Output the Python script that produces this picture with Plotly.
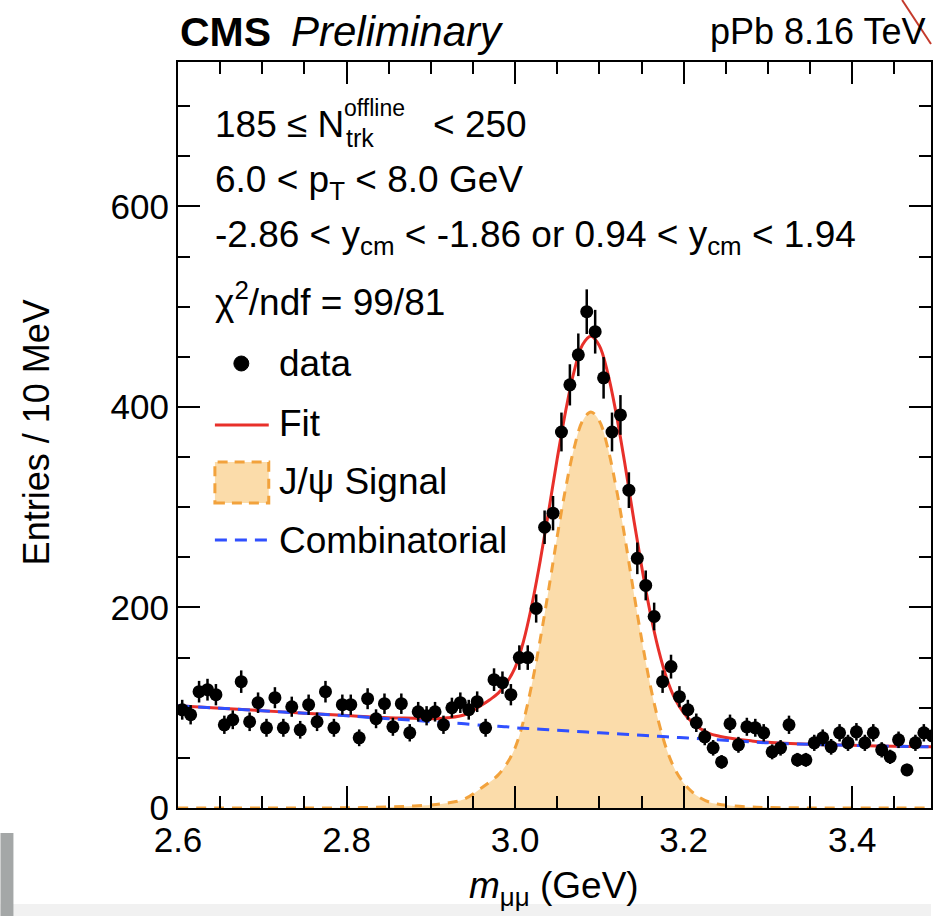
import numpy as np
import plotly.graph_objects as go

# ---------------- data ----------------
bin_width = 0.01
mass_low = 2.60
n_bins = 90
counts = [98, 93, 116, 118, 113, 83, 88, 126, 86, 105,
          80, 110, 80, 101, 78, 103, 86, 116, 80, 103,
          103, 70, 109, 89, 104, 81, 104, 75, 96, 92,
          96, 83, 100, 105, 98, 106, 80, 128, 125, 113,
          150, 150, 199, 280, 294, 375, 422, 452, 495, 475,
          429, 375, 392, 317, 249, 222, 191, 126, 141, 111,
          98, 85, 71, 60, 46, 84, 63, 81, 80, 75,
          56, 60, 83, 48, 48, 65, 70, 61, 75, 65,
          76, 65, 75, 58, 51, 68, 38, 65, 75, 72]

curve_mass = [2.60, 2.65, 2.70, 2.75, 2.80, 2.85, 2.88, 2.90, 2.92, 2.94,
              2.96, 2.97, 2.98, 2.99, 3.00, 3.01, 3.02, 3.03, 3.04, 3.05,
              3.06, 3.07, 3.08, 3.09, 3.10, 3.11, 3.12, 3.13, 3.14, 3.15,
              3.16, 3.17, 3.18, 3.19, 3.20, 3.21, 3.22, 3.23, 3.24, 3.26,
              3.28, 3.30, 3.35, 3.40, 3.45, 3.50]
signal_curve = [0, 0, 0, 0.1, 0.2, 1, 2, 3, 5, 9,
                20, 26, 33, 44, 60, 87, 124, 169, 219, 271,
                319, 359, 386, 395, 386, 359, 319, 271, 219, 169,
                124, 87, 58, 38, 25, 16, 10, 6, 4, 2,
                1, 0.5, 0.1, 0, 0, 0]
background_curve = [102, 99.5, 97, 94.5, 92, 89, 87.5, 86, 85, 84,
                    82.5, 82, 81.5, 81, 80, 79.5, 79, 78.5, 78, 77.5,
                    77, 76.5, 76, 75.5, 75, 74.5, 74, 73.5, 73, 72.5,
                    72, 71.5, 71, 70.5, 70, 69.5, 69, 68.5, 68, 67,
                    66, 65, 63.5, 62.5, 61.5, 61]

x_ticks = [2.6, 2.8, 3.0, 3.2, 3.4]
x_tick_labels = ["2.6", "2.8", "3.0", "3.2", "3.4"]
y_ticks = [0, 200, 400, 600]
y_tick_labels = ["0", "200", "400", "600"]

info_lines = ["6.0 < p<sub>T</sub> < 8.0 GeV",
              "-2.86 < y<sub>cm</sub> < -1.86 or 0.94 < y<sub>cm</sub> < 1.94",
              "χ<sup>2</sup>/ndf = 99/81"]
legend_labels = ["data", "Fit", "J/ψ Signal", "Combinatorial"]

# ---------------- derived ----------------
bin_centers = mass_low + bin_width * (np.arange(n_bins) + 0.5)
counts_arr = np.array(counts, dtype=float)
errors = np.sqrt(counts_arr)
fit_curve = np.array(signal_curve) + np.array(background_curve)

# ---------------- style / geometry ----------------
W, H = 933, 916
L, R, T, B = 178, 0, 62, 108
PW, PH = W - L - R, H - T - B
FONT = "Liberation Sans, Arial, Helvetica, sans-serif"
RED = "#e8302a"
BLUE = "#3050ff"
ORANGE = "#f2a23c"
PEACH = "#fbdcaa"

def px(xp):
    return (xp - L) / PW

def py(yp):
    return (H - B - yp) / PH

fig = go.Figure()

fig.add_trace(go.Scatter(x=curve_mass, y=signal_curve, mode="lines",
                         line=dict(color=ORANGE, width=3, dash="10px,8px", shape="spline"),
                         fill="tozeroy", fillcolor=PEACH, showlegend=False,
                         hoverinfo="skip"))
fig.add_trace(go.Scatter(x=curve_mass, y=fit_curve, mode="lines",
                         line=dict(color=RED, width=3, shape="spline"),
                         showlegend=False))
fig.add_trace(go.Scatter(x=curve_mass, y=background_curve, mode="lines",
                         line=dict(color=BLUE, width=3, dash="12px,8px", shape="spline"),
                         showlegend=False))
fig.add_trace(go.Scatter(x=bin_centers, y=counts_arr, mode="markers",
                         marker=dict(color="black", size=13),
                         error_y=dict(type="data", array=errors, visible=True,
                                      color="black", thickness=2.5, width=0),
                         showlegend=False))

axis_common = dict(showline=True, linewidth=2, linecolor="black", mirror="ticks",
                   ticks="inside", ticklen=22, tickwidth=2, tickcolor="black",
                   showgrid=False, zeroline=False,
                   tickfont=dict(family=FONT, size=35, color="black"))
fig.update_xaxes(range=[2.6, 2.6 + PW / 845.0], tickvals=x_ticks, ticktext=x_tick_labels,
                 minor=dict(ticks="inside", ticklen=12, tickwidth=2, tickcolor="black",
                            dtick=0.05, tick0=2.6, showgrid=False),
                 **axis_common)
fig.update_yaxes(range=[0, 744], tickvals=y_ticks, ticktext=y_tick_labels,
                 minor=dict(ticks="inside", ticklen=12, tickwidth=2, tickcolor="black",
                            dtick=50, tick0=0, showgrid=False),
                 **axis_common)

ann = []
def text(xp, yp, s, size=36, xanchor="left", **kw):
    ann.append(dict(x=px(xp), y=py(yp), xref="paper", yref="paper", text=s,
                    showarrow=False, xanchor=xanchor, yanchor="middle",
                    font=dict(family=FONT, size=size, color="black"), **kw))

text(178, 32, "<b>CMS</b>", size=41)
text(289, 32, "<i>Preliminary</i>", size=42)
text(930, 32, "pPb 8.16 TeV", size=36, xanchor="right")

text(213, 125, "185 ≤ N", size=37)
text(342, 108, "offline", size=23)
text(344, 138, "trk", size=25)
text(432, 125, "< 250", size=37)
text(213, 182, info_lines[0], size=37)
text(213, 237, info_lines[1], size=37)
text(213, 299, info_lines[2], size=37)

leg_y = [363, 423, 482, 540]
for yy, lab in zip(leg_y, legend_labels):
    text(277, yy, lab, size=37)

text(555, 888, "<i>m</i><sub>μμ</sub> (GeV)", size=37, xanchor="center")
ann.append(dict(x=px(36), y=py(432), xref="paper", yref="paper",
                text="Entries / 10 MeV", showarrow=False, textangle=-90,
                xanchor="center", yanchor="middle",
                font=dict(family=FONT, size=36, color="black")))

shapes = [
    # legend swatches
    dict(type="circle", xref="paper", yref="paper", x0=px(234), x1=px(249),
         y0=py(371), y1=py(356), fillcolor="black", line=dict(color="black", width=1)),
    dict(type="line", xref="paper", yref="paper", x0=px(215), x1=px(269),
         y0=py(425), y1=py(425), line=dict(color=RED, width=3)),
    dict(type="rect", xref="paper", yref="paper", x0=px(215), x1=px(269),
         y0=py(503), y1=py(462), fillcolor=PEACH,
         line=dict(color=ORANGE, width=3, dash="10px,7px")),
    dict(type="line", xref="paper", yref="paper", x0=px(215), x1=px(269),
         y0=py(540), y1=py(540), line=dict(color=BLUE, width=3, dash="12px,8px")),
    # screenshot artefacts around the crop
    dict(type="rect", xref="paper", yref="paper", x0=px(0), x1=px(W),
         y0=py(916), y1=py(904), fillcolor="#f1f1f1", line=dict(width=0), layer="below"),
    dict(type="rect", xref="paper", yref="paper", x0=px(0), x1=px(13),
         y0=py(916), y1=py(833), fillcolor="#a4a7a7", line=dict(width=0)),
    dict(type="line", xref="paper", yref="paper", x0=px(904), x1=px(933),
         y0=py(0), y1=py(44), line=dict(color="#c43a2c", width=2)),
]

fig.update_layout(width=W, height=H, margin=dict(l=L, r=R, t=T, b=B, pad=0),
                  paper_bgcolor="white", plot_bgcolor="white",
                  annotations=ann, shapes=shapes, showlegend=False,
                  font=dict(family=FONT, color="black"))

fig.write_html("out.html")
